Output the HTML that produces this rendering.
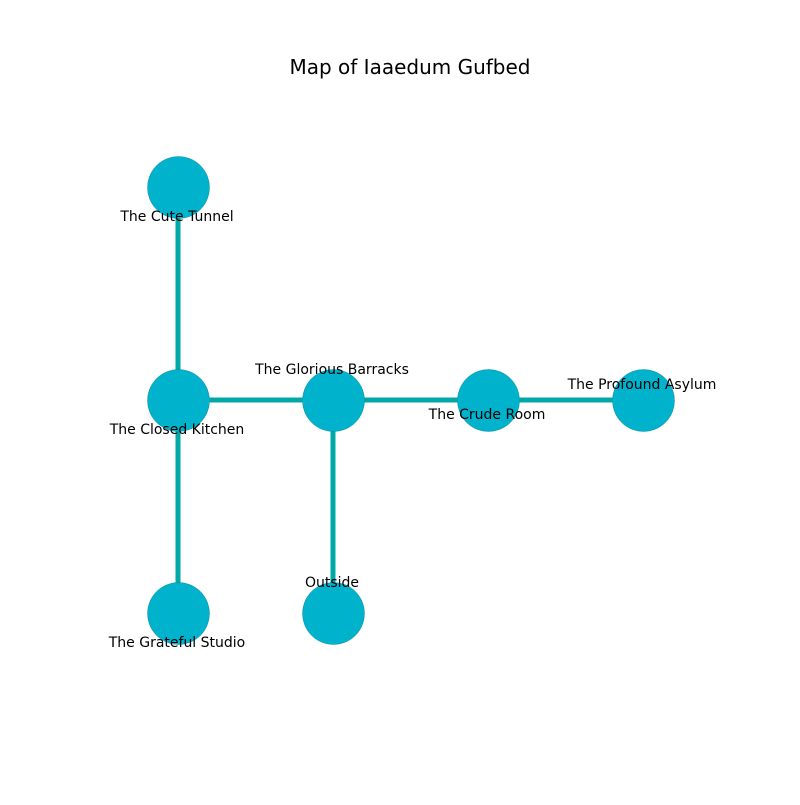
<!DOCTYPE html><html><head><style>body{margin:0;background:#fff}</style></head><body>
<svg width="800" height="800" xmlns="http://www.w3.org/2000/svg" font-family="DejaVu Sans, sans-serif">
<rect width="800" height="800" fill="#fff"/>
<text x="410" y="74" font-size="20" text-anchor="middle">Map of Iaaedum Gufbed</text>
<g stroke="#00a8a8" stroke-width="5">
<line x1="178" y1="187" x2="178" y2="613"/>
<line x1="178" y1="400" x2="643" y2="400"/>
<line x1="333" y1="400" x2="333" y2="613"/>
</g>
<g fill="#00b2cc" stroke="#0a8fa0" stroke-width="0.5">
<circle cx="178.5" cy="187.5" r="31"/>
<circle cx="178.5" cy="400.5" r="31"/>
<circle cx="178.5" cy="613.5" r="31"/>
<circle cx="333.5" cy="400.5" r="31"/>
<circle cx="333.5" cy="613.5" r="31"/>
<circle cx="488.5" cy="400.5" r="31"/>
<circle cx="643.5" cy="400.5" r="31"/>
</g>
<g font-size="14" text-anchor="middle" fill="#000">
<text x="177" y="221">The Cute Tunnel</text>
<text x="177" y="434">The Closed Kitchen</text>
<text x="177" y="647">The Grateful Studio</text>
<text x="332" y="374">The Glorious Barracks</text>
<text x="332" y="587">Outside</text>
<text x="487" y="419">The Crude Room</text>
<text x="642" y="389">The Profound Asylum</text>
</g>
</svg></body></html>
